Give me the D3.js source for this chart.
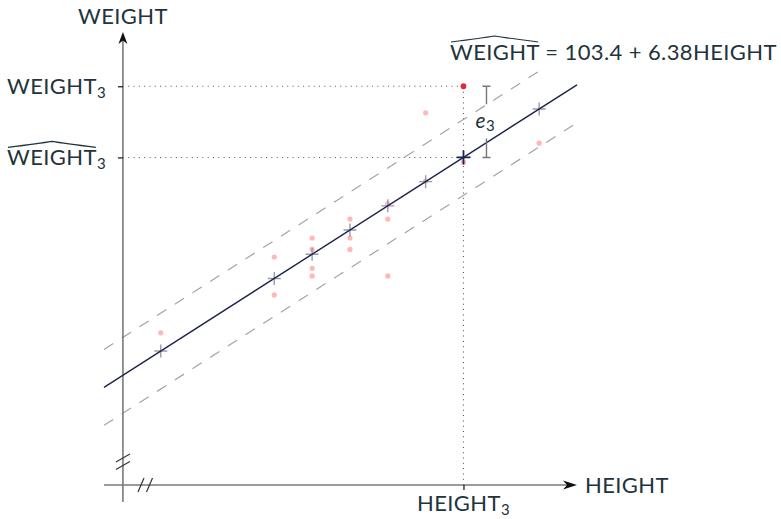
<!DOCTYPE html>
<html>
<head>
<meta charset="utf-8">
<script src="https://cdn.jsdelivr.net/npm/d3@7"></script>
<style>
  body { margin: 0; background: #fff; }
  text { font-family: Lato, "Open Sans", sans-serif; fill: #22333b; letter-spacing: 0.4px; }
</style>
</head>
<body>
<script>
// regression fit
const intercept = 103.4;
const slope = 6.38;
const band = 10;

// heights where the fitted value is marked (+)
const fittedHeights = [60, 63, 64, 65, 66, 67, 68, 70];

// observed points
const obsHeight = [60, 63, 63, 64, 64, 64, 64, 65, 65, 65, 66, 66, 66, 67, 67, 68, 70];
const obsWeight = [491, 511, 501, 516, 513, 508, 506, 521, 516, 513, 525, 521, 506, 549, 531, 536, 541];

// highlighted observation no. 3
const height3 = 68;
const weight3 = 556;

// extents in data units
const xDomain = [58.5, 71];
const yDomain = [450.9, 570.3];
const yAxisAt = 59;
const yAxisBottom = 446.4;
const lineRange = [58.5, 71];
const upperRange = [58.5, 70.08];
const lowerRange = [58.5, 71];

const W = 781, H = 519;
const x = d3.scaleLinear().domain(xDomain).range([104, 577]);
const y = d3.scaleLinear().domain(yDomain).range([485, 32]);
const fit = h => intercept + slope * h;
const what3 = fit(height3);

const svg = d3.select("body").append("svg").attr("width", W).attr("height", H);

// dotted guides
const guides = svg.append("g")
  .attr("stroke", "#555").attr("stroke-width", 1.1).attr("stroke-dasharray", "1,4.3").attr("fill", "none");
guides.append("line").attr("x1", x(yAxisAt)).attr("x2", x(height3)).attr("y1", y(weight3)).attr("y2", y(weight3));
guides.append("line").attr("x1", x(yAxisAt)).attr("x2", x(height3)).attr("y1", y(what3)).attr("y2", y(what3));
guides.append("line").attr("x1", x(height3)).attr("x2", x(height3)).attr("y1", y(yDomain[0])).attr("y2", y(weight3));

// dashed band
const bandLine = (r, off) => svg.append("line")
  .attr("x1", x(r[0])).attr("y1", y(fit(r[0]) + off))
  .attr("x2", x(r[1])).attr("y2", y(fit(r[1]) + off))
  .attr("stroke", "#a3a3aa").attr("stroke-width", 1.2).attr("stroke-dasharray", "11,10");
bandLine(upperRange, band);
bandLine(lowerRange, -band);

// axes
const axisG = svg.append("g").attr("stroke", "#7a7a7a").attr("stroke-width", 1.6);
axisG.append("line").attr("x1", x(xDomain[0])).attr("x2", x(xDomain[1]) - 8)
  .attr("y1", y(yDomain[0])).attr("y2", y(yDomain[0]));
axisG.append("line").attr("x1", x(yAxisAt)).attr("x2", x(yAxisAt))
  .attr("y1", y(yAxisBottom)).attr("y2", y(yDomain[1]) + 8);

// arrow heads
const ax = x(xDomain[1]), ay = y(yDomain[0]);
svg.append("path").attr("d", `M${ax},${ay} L${ax - 14},${ay - 4.5} L${ax - 10},${ay} L${ax - 14},${ay + 4.5} Z`).attr("fill", "#111");
const vx = x(yAxisAt), vy = y(yDomain[1]);
svg.append("path").attr("d", `M${vx},${vy} L${vx - 4.5},${vy + 12} L${vx},${vy + 8.5} L${vx + 4.5},${vy + 12} Z`).attr("fill", "#111");

// ticks
svg.append("g").attr("transform", `translate(${x(yAxisAt)},0)`)
  .call(d3.axisLeft(y).tickValues([weight3, what3]).tickFormat("").tickSize(5).tickSizeOuter(0))
  .call(g => g.select(".domain").remove())
  .selectAll("line").attr("stroke", "#222").attr("stroke-width", 1.3);
svg.append("g").attr("transform", `translate(0,${y(yDomain[0])})`)
  .call(d3.axisBottom(x).tickValues([height3]).tickFormat("").tickSize(5).tickSizeOuter(0))
  .call(g => g.select(".domain").remove())
  .selectAll("line").attr("stroke", "#222").attr("stroke-width", 1.3);

// break marks
const brk = svg.append("g").attr("stroke", "#333").attr("stroke-width", 1.2);
[458, 465.5].forEach(cy => brk.append("line")
  .attr("x1", vx - 7).attr("y1", cy + 4).attr("x2", vx + 7).attr("y2", cy - 4));
[141, 149.5].forEach(cx => brk.append("line")
  .attr("x1", cx - 3).attr("y1", ay + 7).attr("x2", cx + 3).attr("y2", ay - 7));

// observed points
svg.append("g").selectAll("circle").data(obsHeight).enter().append("circle")
  .attr("cx", (d) => x(d)).attr("cy", (d, i) => y(obsWeight[i]))
  .attr("r", 2.6).attr("fill", "#ffb7b7");

// fitted plus markers
const plus = svg.append("g").attr("stroke", "#8e92a3").attr("stroke-width", 1.4).attr("opacity", 0.9);
fittedHeights.filter(h => h !== height3).forEach(h => {
  const px = x(h), py = y(fit(h));
  plus.append("path").attr("d", `M${px - 6.5},${py} H${px + 6.5} M${px},${py - 6.5} V${py + 6.5}`);
});

// regression line
svg.append("line")
  .attr("x1", x(lineRange[0])).attr("y1", y(fit(lineRange[0])))
  .attr("x2", x(lineRange[1])).attr("y2", y(fit(lineRange[1])))
  .attr("stroke", "#1c2150").attr("stroke-width", 1.4);

// highlighted fitted value and observation
const hx = x(height3), hy = y(what3);
svg.append("path").attr("d", `M${hx - 7},${hy} H${hx + 7} M${hx},${hy - 7} V${hy + 7}`)
  .attr("stroke", "#1c2150").attr("stroke-width", 1.8);
svg.append("circle").attr("cx", hx).attr("cy", y(weight3)).attr("r", 2.9).attr("fill", "#e52b32");

// residual bracket
const bx = hx + 23, bt = y(weight3), bb = y(what3);
svg.append("path")
  .attr("d", `M${bx - 4},${bt} H${bx + 4} M${bx},${bt} V${bt + 18} M${bx},${bb - 19} V${bb} M${bx - 4},${bb} H${bx + 4}`)
  .attr("stroke", "#777").attr("stroke-width", 1.4).attr("fill", "none");
const e3 = svg.append("text").attr("x", bx - 11).attr("y", (bt + bb) / 2 + 6).style("font-size", "21px");
e3.append("tspan").text("e").style("font-style", "italic");
e3.append("tspan").text("3").attr("dy", 3).style("font-size", "15px");

// hat over the first n characters of a text element
function hat(t, n) {
  const node = t.node();
  const s = node.getStartPositionOfChar(0);
  const e = node.getEndPositionOfChar(n - 1);
  const top = s.y - 21;
  const mid = (s.x + e.x) / 2;
  svg.append("path")
    .attr("d", `M${s.x + 1},${top + 3} Q${mid - 12},${top - 1} ${mid},${top - 3} Q${mid + 12},${top - 1} ${e.x - 1},${top + 3}`)
    .attr("stroke", "#22333b").attr("stroke-width", 1.2).attr("fill", "none");
}

function subLabel(px, py, anchor, main, sub) {
  const t = svg.append("text").attr("x", px).attr("y", py).attr("text-anchor", anchor).style("font-size", "22px");
  t.append("tspan").text(main);
  t.append("tspan").text(sub).attr("dy", 3.5).style("font-size", "15px");
  return t;
}

svg.append("text").attr("x", vx).attr("y", 24).attr("text-anchor", "middle").style("font-size", "22px").text("WEIGHT");
subLabel(106, y(weight3) + 8, "end", "WEIGHT", "3");
hat(subLabel(106, y(what3) + 8, "end", "WEIGHT", "3"), 6);
subLabel(hx, 511, "middle", "HEIGHT", "3");
svg.append("text").attr("x", 585).attr("y", 493).style("font-size", "22px").text("HEIGHT");
const eq = svg.append("text").attr("x", 450).attr("y", 60).style("font-size", "22px")
  .text(`WEIGHT = ${intercept} + ${slope}HEIGHT`);
hat(eq, 6);
</script>
</body>
</html>
